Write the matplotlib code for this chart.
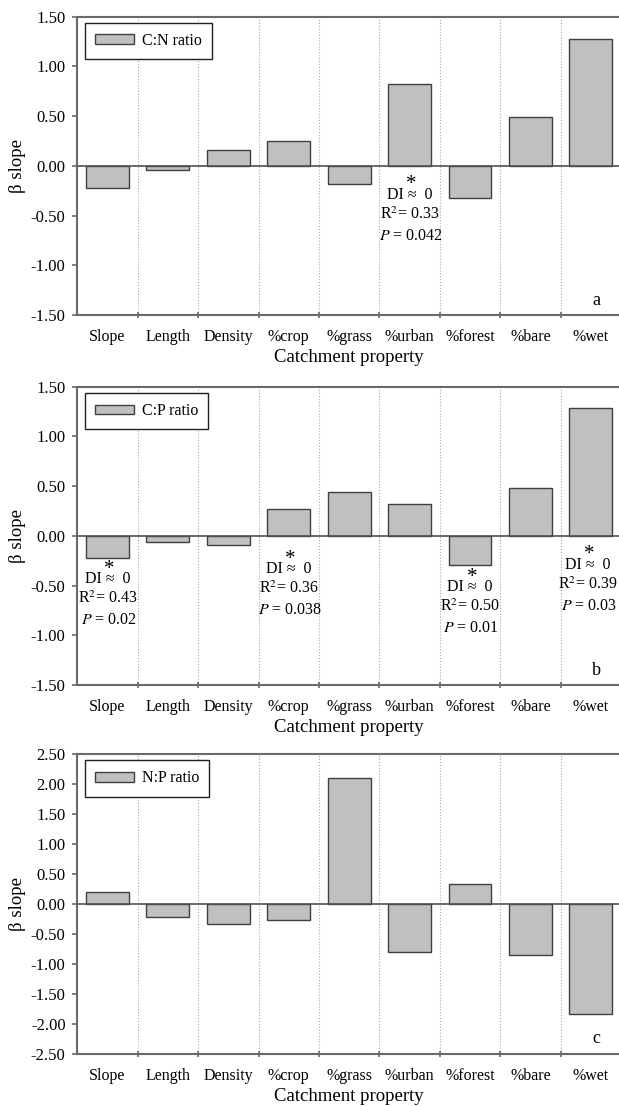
import numpy as np
import matplotlib
matplotlib.use("Agg")
import matplotlib.pyplot as plt

plt.rcParams['font.family'] = ['Liberation Serif', 'DejaVu Serif']
plt.rcParams['mathtext.fontset'] = 'stix'

# data
categories = ["Slope", "Length", "Density", "%crop", "%grass",
              "%urban", "%forest", "%bare", "%wet"]
cn_ratio = [-0.22, -0.04, 0.16, 0.25, -0.18, 0.82, -0.32, 0.49, 1.27]
cp_ratio = [-0.22, -0.06, -0.09, 0.27, 0.44, 0.32, -0.29, 0.48, 1.29]
np_ratio = [0.20, -0.22, -0.33, -0.27, 2.10, -0.80, 0.34, -0.85, -1.83]

panel_names = ["C:N ratio", "C:P ratio", "N:P ratio"]
panel_letters = ["a", "b", "c"]
ylims = [(-1.5, 1.5), (-1.5, 1.5), (-2.5, 2.5)]

# significant relationships: (category index, y of "DI" line, R2, P)
notes_a = [(5, -0.29, "0.33", "0.042")]
notes_b = [(0, -0.435, "0.43", "0.02"),
           (3, -0.335, "0.36", "0.038"),
           (6, -0.515, "0.50", "0.01"),
           (8, -0.29, "0.39", "0.03")]
notes_c = []

series = [cn_ratio, cp_ratio, np_ratio]
notes = [notes_a, notes_b, notes_c]

fig = plt.figure(figsize=(6.19, 11.07), dpi=100)
bottoms = [0.7154, 0.3812, 0.0479]
heights = [0.2696, 0.2695, 0.2710]

spine_col = "#6a6a6a"
x = np.arange(len(categories))

for k in range(3):
    ax = fig.add_axes([0.1249, bottoms[k], 0.8784, heights[k]])
    ax.bar(x, series[k], width=0.71, color="#c0c0c0", edgecolor="#404040",
           linewidth=1.0, label=panel_names[k], zorder=3)
    ax.axhline(0, color="#505050", linewidth=1.2, zorder=4)

    ax.set_xlim(-0.5, len(categories) - 0.5)
    lo, hi = ylims[k]
    ax.set_ylim(lo, hi)
    ax.set_yticks(np.arange(lo, hi + 0.01, 0.5))
    ax.set_yticklabels(["%.2f" % v for v in np.arange(lo, hi + 0.01, 0.5)])

    ax.set_xticks(x)
    ax.set_xticklabels(categories)
    ax.set_xticks(np.arange(0.5, len(categories) - 1, 1.0), minor=True)
    ax.tick_params(axis="x", which="major", length=0, pad=10, labelsize=11.5)
    ax.tick_params(axis="x", which="minor", direction="inout", length=5,
                   width=1.2, color=spine_col)
    ax.tick_params(axis="y", direction="out", length=3.5, width=1.2,
                   color=spine_col, pad=5, labelsize=12)
    ax.grid(True, axis="x", which="minor", linestyle=":", color="#a8a8a8",
            linewidth=0.8, zorder=0)

    for side in ["left", "bottom", "top"]:
        ax.spines[side].set_color(spine_col)
        ax.spines[side].set_linewidth(1.5)
    ax.spines["right"].set_visible(False)

    ax.set_ylabel("β slope", fontsize=13.5, labelpad=3)
    ax.set_xlabel("Catchment property", fontsize=13.5, labelpad=3)

    leg = ax.legend(loc="upper left", bbox_to_anchor=(0.014, 0.98),
                    borderaxespad=0, fontsize=11.5, fancybox=False,
                    handlelength=2.4, handleheight=0.55, handletextpad=0.5,
                    borderpad=0.65, framealpha=1)
    leg.get_frame().set_edgecolor("#202020")
    leg.get_frame().set_linewidth(1.0)

    ax.text(0.954, 0.05, panel_letters[k], transform=ax.transAxes,
            ha="center", va="center", fontsize=13)

    step = 0.2 * (hi - lo) / 3.0
    for idx, ydi, r2, p in notes[k]:
        xc = min(idx, len(categories) - 1.05)
        ax.text(xc + 0.03, ydi + 0.10, "*", ha="center", va="center",
                fontsize=15, zorder=5)
        ax.text(xc, ydi, "DI ≈  0", ha="center", va="center",
                fontsize=11.5, zorder=5)
        ax.text(xc, ydi - step, "R$^2$= " + r2, ha="center", va="center",
                fontsize=11.5, zorder=5)
        ax.text(xc + 0.02, ydi - 2.07 * step, "$P$ = " + p, ha="center",
                va="center", fontsize=11.5, zorder=5)

fig.savefig("out.png", dpi=100)
